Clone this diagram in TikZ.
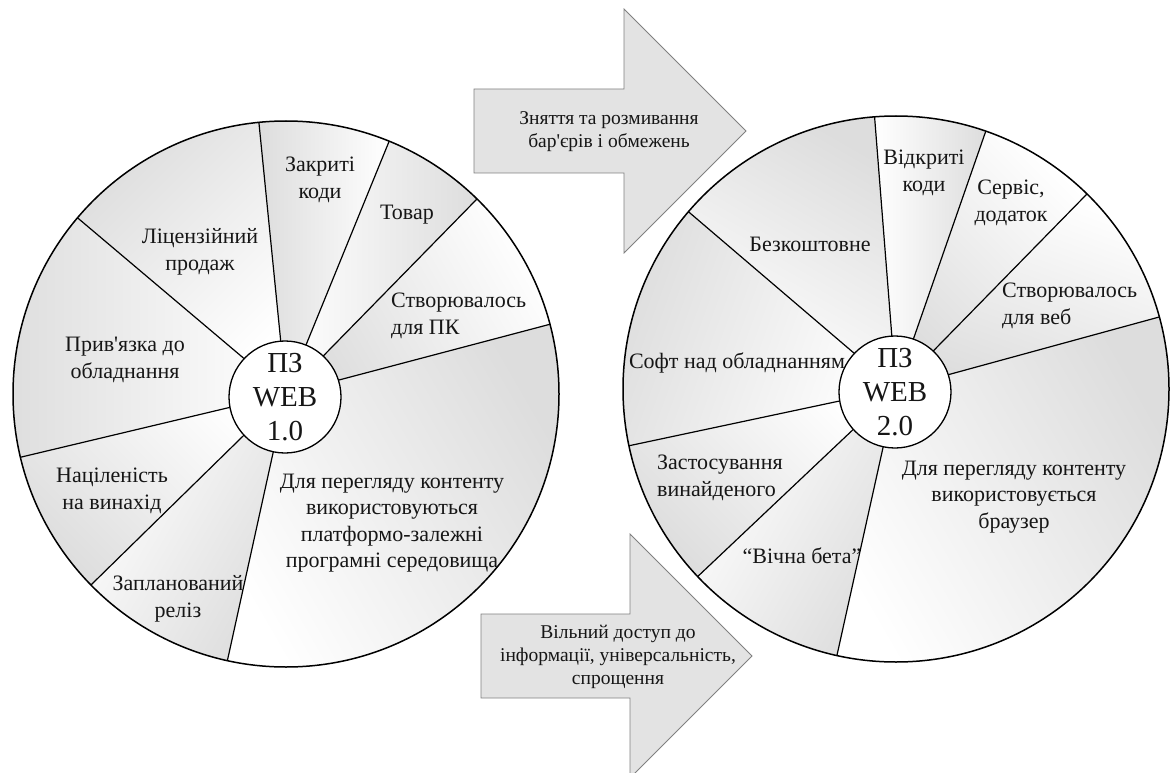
\documentclass[tikz,border=0pt]{standalone}
\usepackage{fontspec}
\setmainfont{LiberationSerif}[Extension=.ttf, UprightFont=*-Regular,
  BoldFont=*-Bold, ItalicFont=*-Italic, BoldItalicFont=*-BoldItalic]
\definecolor{arrowfill}{HTML}{E3E3E3}
\definecolor{arrowline}{HTML}{808080}
\definecolor{sectorgray}{HTML}{DDDDDD}
\definecolor{ink}{HTML}{161616}
\begin{document}
\begin{tikzpicture}[x=1pt,y=1pt,
  rim/.style={line width=1.5pt, draw=black},
  spoke/.style={line width=1.2pt, draw=black},
  hub/.style={circle, draw=black, line width=1.3pt, fill=white, minimum size=112pt,
    inner sep=0pt, text=ink, font=\fontsize{29}{34}\selectfont, align=center},
  lbl/.style={font=\fontsize{22}{26.5}\selectfont, align=center, inner sep=0pt, text=ink},
  lbll/.style={lbl, align=left, anchor=west},
  arrowtxt/.style={font=\fontsize{19.5}{23}\selectfont, align=center, inner sep=0pt, text=ink},
  blockarrow/.style={fill=arrowfill, draw=arrowline, line width=0.8pt, line join=miter}
]
\useasboundingbox (0,0) rectangle (1176,-773);

% ---------- block arrows between the two wheels ----------
\draw[blockarrow] (474,-89) -- (624,-89) -- (624,-9) -- (746,-131) -- (624,-253)
  -- (624,-173) -- (474,-173) -- cycle;
\node[arrowtxt] (barriers) at (609,-132)
  {Зняття та розмивання\\бар\textquotesingle єрів і обмежень};

\draw[blockarrow] (481,-614) -- (630,-614) -- (630,-534) -- (752,-656) -- (630,-778)
  -- (630,-698) -- (481,-698) -- cycle;
\node[arrowtxt] (access) at (618,-657)
  {Вільний доступ до\\інформації, універсальність,\\спрощення};

% ---------- WEB 1.0 wheel ----------
\coordinate (Lc) at (286,-394);
% start angle / end angle / direction of the grey end of the gradient
\foreach \a/\b/\g in {14.8/45.6/210, 45.6/67.8/0, 67.8/95.7/180, 95.7/139.8/135,
    139.8/193.4/180, 193.4/224.4/225, 224.4/257.6/330, 257.6/374.8/30}{
  \pgfmathsetmacro\sa{\g-90}
  \shade[top color=sectorgray, bottom color=white, shading angle=\sa]
    (Lc) -- ++(\a:273) arc[start angle=\a, end angle=\b, radius=273] -- cycle;
}
\foreach \a in {14.8, 45.6, 67.8, 95.7, 139.8, 193.4, 224.4, 257.6}{
  \draw[spoke] (Lc) -- ++(\a:273);
}
\draw[rim] (Lc) circle[radius=273];
\node[hub] (hubL) at (285,-397) {ПЗ\\WEB\\1.0};

\node[lbl] (closed) at (320,-180) {Закриті\\коди};
\node[lbl] (goods) at (407,-215) {Товар};
\node[lbl] (licence) at (200,-252) {Ліцензійний\\продаж};
\node[lbll] (forpc) at (391,-316) {Створювалось\\для ПК};
\node[lbl] (hardware) at (125,-360) {Прив\textquotesingle язка до\\обладнання};
\node[lbl] (invention) at (112,-491) {Націленість\\на винахід};
\node[lbl] (release) at (178,-599) {Запланований\\реліз};
\node[lbl] (viewL) at (392,-523) {Для перегляду контенту\\використовуються\\платформо-залежні\\програмні середовища};

% ---------- WEB 2.0 wheel ----------
\coordinate (Rc) at (896,-389);
\foreach \a/\b/\g in {15.3/45.6/250, 45.6/70.8/225, 70.8/94.5/0, 94.5/139.5/60,
    139.5/192/160, 192/223.4/225, 223.4/257.5/330, 257.5/375.3/30}{
  \pgfmathsetmacro\sa{\g-90}
  \shade[top color=sectorgray, bottom color=white, shading angle=\sa]
    (Rc) -- ++(\a:273) arc[start angle=\a, end angle=\b, radius=273] -- cycle;
}
\foreach \a in {15.3, 45.6, 70.8, 94.5, 139.5, 192, 223.4, 257.5}{
  \draw[spoke] (Rc) -- ++(\a:273);
}
\draw[rim] (Rc) circle[radius=273];
\node[hub] (hubR) at (895,-392) {ПЗ\\WEB\\2.0};

\node[lbl] (open) at (924,-173) {Відкриті\\коди};
\node[lbl] (service) at (1011,-203) {Сервіс,\\додаток};
\node[lbl] (free) at (810,-244) {Безкоштовне};
\node[lbll] (forweb) at (1002,-306) {Створювалось\\для веб};
\node[lbl] (soft) at (737,-363) {Софт над обладнанням};
\node[lbll] (applied) at (657,-478) {Застосування\\винайденого};
\node[lbl] (beta) at (802,-556) {“Вічна бета”};
\node[lbl] (viewR) at (1014,-497) {Для перегляду контенту\\використовується\\браузер};
\end{tikzpicture}
\end{document}
